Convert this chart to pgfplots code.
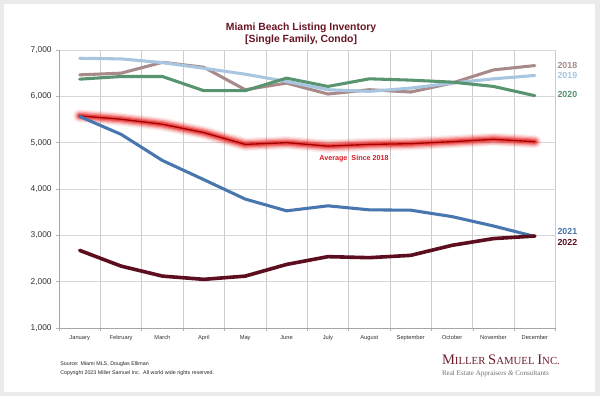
\documentclass[border=0pt]{standalone}
\usepackage{fontspec}
\setmainfont{Liberation Sans}
\newfontfamily\logofont{Liberation Serif}
\usepackage{pgfplots}
\usepackage{pgfplotstable}
\pgfplotsset{compat=1.18}
\definecolor{c18}{RGB}{168,138,138}
\definecolor{c19}{RGB}{168,198,224}
\definecolor{c20}{RGB}{88,148,112}
\definecolor{c21}{RGB}{72,118,174}
\definecolor{c22}{RGB}{92,14,30}
\definecolor{glow}{RGB}{232,20,20}
\definecolor{core}{RGB}{165,0,0}
\definecolor{titlec}{RGB}{105,20,35}
\definecolor{logoc}{RGB}{110,30,45}
\definecolor{avgtext}{RGB}{215,30,40}

\pgfplotstableread{
x y
0 6464
1 6500
2 6735
3 6628
4 6143
5 6286
6 6050
7 6143
8 6093
9 6286
10 6571
11 6664
}\tabA
\pgfplotstableread{
x y
0 6822
1 6808
2 6728
3 6606
4 6478
5 6321
6 6143
7 6107
8 6178
9 6286
10 6378
11 6450
}\tabB
\pgfplotstableread{
x y
0 6371
1 6428
2 6428
3 6122
4 6122
5 6393
6 6214
7 6378
8 6350
9 6307
10 6214
11 6014
}\tabC
\pgfplotstableread{
x y
0 5565
1 5180
2 4615
3 4202
4 3783
5 3529
6 3637
7 3550
8 3543
9 3404
10 3202
11 2975
}\tabD
\pgfplotstableread{
x y
0 2675
1 2336
2 2120
3 2050
4 2120
5 2372
6 2540
7 2518
8 2568
9 2785
10 2930
11 2985
}\tabE
\pgfplotstableread{
x y
0 5578
1 5506
2 5398
3 5217
4 4963
5 5000
6 4926
7 4963
8 4978
9 5022
10 5072
11 5022
}\tabAvg

\begin{document}
\begin{tikzpicture}
\fill[black!8] (0,0) rectangle (450pt,-297pt);
\fill[white] (3pt,-3pt) rectangle (446.25pt,-294pt);
\begin{axis}[
  at={(44.25pt,-246pt)}, anchor=south west,
  scale only axis, width=372.4pt, height=208.5pt,
  xmin=-0.5, xmax=11.5, ymin=1000, ymax=7000,
  xtick={0,...,11},
  xticklabels={January,February,March,April,May,June,July,August,September,October,November,December},
  minor xtick={-0.5,0.5,...,11.5},
  xminorgrids=true,
  ytick={1000,2000,...,7000},
  ymajorgrids=true,
  tick align=outside,
  major tick length=2pt, minor tick length=2pt,
  major x tick style={draw=none},
  every tick/.style={draw=black!30},
  minor x tick style={draw=black!30},
  grid style={draw=black!16, line width=0.5pt},
  minor grid style={draw=black!20, line width=0.5pt},
  axis line style={draw=black!35, line width=0.5pt},
  axis x line*=bottom, axis y line*=left,
  /pgf/number format/.cd, 1000 sep={,}, assume math mode=true,
  /pgfplots/.cd,
  yticklabel style={font=\fontsize{6.3}{7}\selectfont, text=black!80},
  xticklabel style={font=\fontsize{4.3}{5}\selectfont, text=black!80},
  every axis plot/.append style={line join=round, line cap=round},
]
\addplot[c18, line width=2.3pt] table {\tabA};
\addplot[c19, line width=2.3pt] table {\tabB};
\addplot[c20, line width=2.3pt] table {\tabC};
\addplot[glow, line width=10pt, opacity=0.08] table {\tabAvg};
\addplot[glow, line width=8pt, opacity=0.14] table {\tabAvg};
\addplot[glow, line width=6.3pt, opacity=0.2] table {\tabAvg};
\addplot[glow, line width=4.6pt, opacity=0.3] table {\tabAvg};
\addplot[glow, line width=3pt, opacity=0.45] table {\tabAvg};
\addplot[core, line width=1pt] table {\tabAvg};
\addplot[c21, line width=2.3pt] table {\tabD};
\addplot[c22, line width=2.7pt] table {\tabE};
\node[font=\bfseries\fontsize{5.4}{6}\selectfont, text=avgtext] at (axis cs:6.63,4650) {Average\ \ Since 2018};
\end{axis}
% title
\node[anchor=base, inner sep=0, font=\bfseries\fontsize{7.8}{9}\selectfont, text=titlec] at (225.8pt,-22.9pt) {Miami Beach Listing Inventory};
\node[anchor=base, inner sep=0, font=\bfseries\fontsize{7.8}{9}\selectfont, text=titlec] at (225.8pt,-31.9pt) {[Single Family, Condo]};
% year labels
\node[anchor=west, inner sep=0, font=\bfseries\fontsize{6.6}{7}\selectfont, text=c18] at (418pt,-48.75pt) {2018};
\node[anchor=west, inner sep=0, font=\bfseries\fontsize{6.6}{7}\selectfont, text=c19] at (418pt,-56.8pt) {2019};
\node[anchor=west, inner sep=0, font=\bfseries\fontsize{6.6}{7}\selectfont, text=c20] at (418pt,-70.5pt) {2020};
\node[anchor=west, inner sep=0, font=\bfseries\fontsize{6.6}{7}\selectfont, text=c21] at (418pt,-173.8pt) {2021};
\node[anchor=west, inner sep=0, font=\bfseries\fontsize{6.6}{7}\selectfont, text=c22] at (418pt,-182pt) {2022};
% footer
\node[anchor=base west, inner sep=0, font=\fontsize{4}{5}\selectfont, text=black!85] at (45pt,-274.3pt) {Source: Miami MLS, Douglas Elliman};
\node[anchor=base west, inner sep=0, font=\fontsize{4}{5}\selectfont, text=black!85] at (45pt,-281.1pt) {Copyright 2023 Miller Samuel Inc.\ \ All world wide rights reserved.};
% logo
\node[anchor=base west, inner sep=0, text=logoc] at (331.3pt,-273pt) {\logofont{\fontsize{10.9}{11}\selectfont M}{\fontsize{8.1}{9}\selectfont ILLER }{\fontsize{10.9}{11}\selectfont S}{\fontsize{8.1}{9}\selectfont AMUEL }{\fontsize{10.9}{11}\selectfont I}{\fontsize{8.1}{9}\selectfont NC.}};
\node[anchor=base west, inner sep=0, text=black!55] at (331.3pt,-281.3pt) {\logofont\fontsize{5.3}{6}\selectfont Real Estate Appraisers \textit{\&} Consultants};
\end{tikzpicture}
\end{document}
